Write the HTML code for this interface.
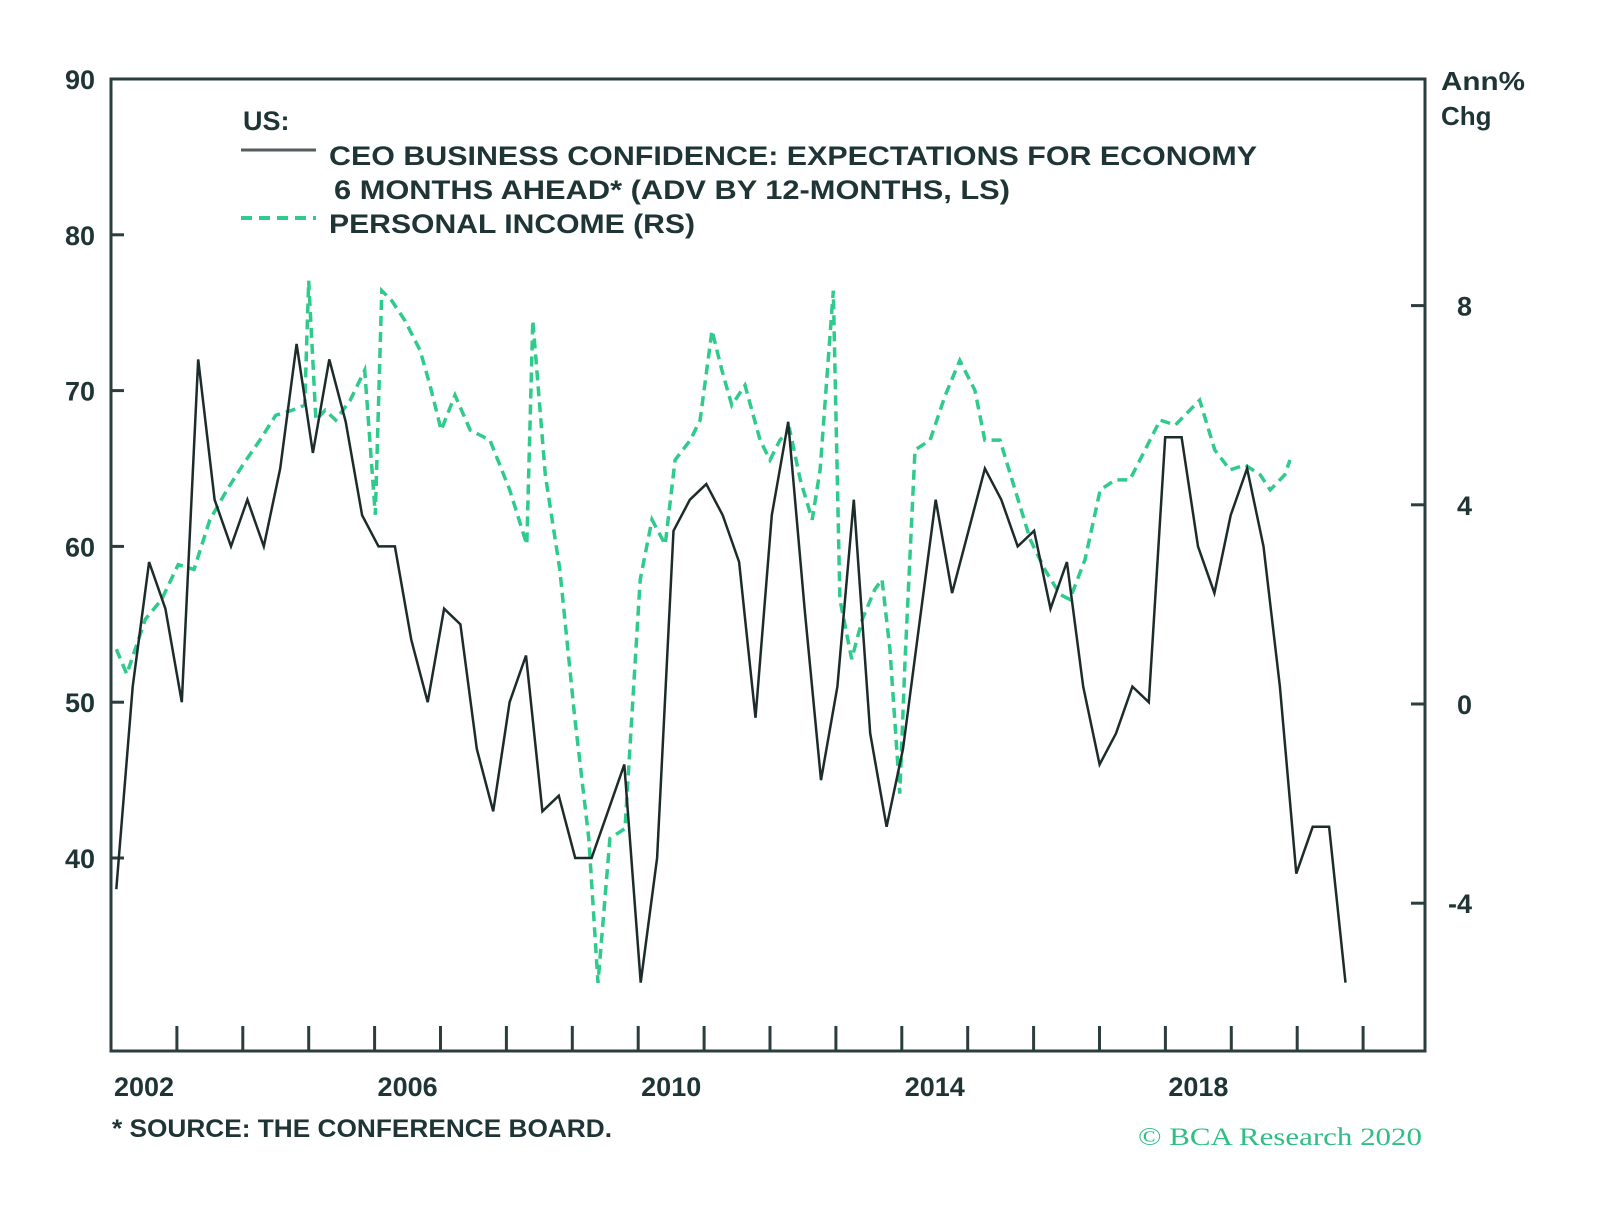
<!DOCTYPE html>
<html><head><meta charset="utf-8"><style>
body{margin:0;background:#fff;}
svg{display:block;font-family:"Liberation Sans",sans-serif;}
</style></head><body>
<svg id="chart" width="1600" height="1211" viewBox="0 0 1600 1211">
<g id="axes"></g>
<g id="series"></g>
<g fill="#1f3535" font-size="27" font-weight="bold">
<text x="243" y="130">US:</text>
<line x1="241" y1="150" x2="316" y2="150" stroke="#555e5e" stroke-width="3"/>
<text x="329" y="165" textLength="928" lengthAdjust="spacingAndGlyphs">CEO BUSINESS CONFIDENCE: EXPECTATIONS FOR ECONOMY</text>
<text x="334" y="199" textLength="676" lengthAdjust="spacingAndGlyphs">6 MONTHS AHEAD* (ADV BY 12-MONTHS, LS)</text>
<line x1="241" y1="218" x2="316" y2="218" stroke="#2ecb8c" stroke-width="4" stroke-dasharray="11,7"/>
<text x="329" y="233" textLength="366" lengthAdjust="spacingAndGlyphs">PERSONAL INCOME (RS)</text>
</g>
<text x="1441" y="90" font-size="26" font-weight="bold" fill="#1f3535" textLength="84" lengthAdjust="spacingAndGlyphs">Ann%</text>
<text x="1441" y="125" font-size="26" font-weight="bold" fill="#1f3535">Chg</text>
<text x="112" y="1137" font-size="25" font-weight="bold" fill="#1f3535" textLength="500" lengthAdjust="spacingAndGlyphs">* SOURCE: THE CONFERENCE BOARD.</text>
<text x="1138" y="1145" font-size="25" fill="#2ebf85" font-family="Liberation Serif,serif" textLength="284" lengthAdjust="spacingAndGlyphs">© BCA Research 2020</text>
</svg>
<script>
const ceoValues=[38,51,59,56,50,72,63,60,63,60,65,73,66,72,68,62,60,60,54,50,56,55,47,43,50,53,43,44,40,40,43,46,32,40,61,63,64,62,59,49,62,68,56,45,51,63,48,42,47,55,63,57,61,65,63,60,61,56,59,51,46,48,51,50,67,67,60,57,62,65,60,51,39,42,42,32];
const ceoStart=2002.08, ceoStep=0.2487;
const incomeDates=[.08,.24,.52,.77,1.02,1.26,1.50,1.76,2.00,2.26,2.50,2.75,2.94,3.00,3.11,3.25,3.41,3.63,3.85,4.01,4.11,4.26,4.46,4.69,4.84,5.01,5.22,5.45,5.75,6.05,6.31,6.40,6.59,6.81,7.04,7.25,7.39,7.57,7.80,8.03,8.21,8.41,8.56,8.79,8.94,9.12,9.27,9.42,9.62,9.85,10.00,10.15,10.30,10.46,10.64,10.76,10.96,11.06,11.24,11.40,11.59,11.70,11.82,11.97,12.05,12.20,12.43,12.66,12.88,13.11,13.26,13.49,13.72,13.95,14.17,14.40,14.55,14.78,15.01,15.24,15.46,15.69,15.92,16.15,16.37,16.52,16.75,16.98,17.21,17.44,17.59,17.81,17.89];
const incomeValues=[1.1,0.6,1.7,2.1,2.8,2.7,3.7,4.3,4.8,5.3,5.8,5.9,6.0,8.5,5.7,5.9,5.7,6.1,6.7,3.8,8.3,8.1,7.7,7.1,6.4,5.5,6.2,5.5,5.3,4.3,3.2,7.7,4.6,2.7,-0.3,-2.7,-5.6,-2.7,-2.5,2.5,3.7,3.2,4.9,5.3,5.7,7.5,6.7,6.0,6.4,5.3,4.9,5.3,5.5,4.5,3.7,4.7,8.3,2.1,0.9,1.7,2.3,2.5,1.1,-1.8,0.9,5.1,5.3,6.2,6.9,6.3,5.3,5.3,4.3,3.3,2.7,2.2,2.1,2.9,4.3,4.5,4.5,5.1,5.7,5.6,5.9,6.1,5.1,4.7,4.8,4.6,4.3,4.6,4.9];
const leftTicks=[90,80,70,60,50,40];
const rightTicks=[8,4,0,-4];
const yearLabels=[2002,2006,2010,2014,2018];

const L=111,R=1425,T=79,B=1051;
const x=y=>L+(y-2002)*65.9;
const yl=v=>79+(90-v)*15.58;
const yr=v=>704-v*49.8;
const NS='http://www.w3.org/2000/svg';
const axes=document.getElementById('axes'),series=document.getElementById('series');
function mk(t,a,p){const e=document.createElementNS(NS,t);for(const k in a)e.setAttribute(k,a[k]);p.appendChild(e);return e;}
const C='#2b3d3d';
const frame=mk('rect',{x:L,y:T,width:R-L,height:B-T,fill:'none',stroke:C,'stroke-width':3},axes);


leftTicks.forEach(v=>{
  const t=mk('line',{x1:L,x2:L+13,y1:yl(v),y2:yl(v),stroke:C,'stroke-width':3},axes);
  
  
  const s=mk('text',{x:95,y:yl(v)+10,'text-anchor':'end','font-size':27,'font-weight':'bold',fill:'#1f3535'},axes);
  s.textContent=v;
  
  
});
rightTicks.forEach(v=>{
  const t=mk('line',{x1:R-14,x2:R,y1:yr(v),y2:yr(v),stroke:C,'stroke-width':3},axes);
  
  
  const s=mk('text',{x:1472,y:yr(v)+10,'text-anchor':'end','font-size':27,'font-weight':'bold',fill:'#1f3535'},axes);
  s.textContent=v;
  
  
});
for(let yr0=2003;yr0<=2021;yr0++){
  const t=mk('line',{x1:x(yr0),x2:x(yr0),y1:B-25,y2:B,stroke:C,'stroke-width':3},axes);
  
  
}
yearLabels.forEach(v=>{
  const s=mk('text',{x:x(v)+33,y:1096,'text-anchor':'middle','font-size':27,'font-weight':'bold',fill:'#1f3535'},axes);
  s.textContent=v;
  
  
});
const ip=incomeDates.map((d,i)=>x(2002+d).toFixed(1)+','+yr(incomeValues[i]).toFixed(1)).join(' ');
const inc=mk('polyline',{points:ip,fill:'none',stroke:'#2ecb8c','stroke-width':3.5,'stroke-dasharray':'10,6'},series);


const cp=ceoValues.map((v,i)=>x(ceoStart+i*ceoStep).toFixed(1)+','+yl(v).toFixed(1)).join(' ');
const ceo=mk('polyline',{points:cp,fill:'none',stroke:'#1e2b2b','stroke-width':2.5},series);


</script>
</body></html>
